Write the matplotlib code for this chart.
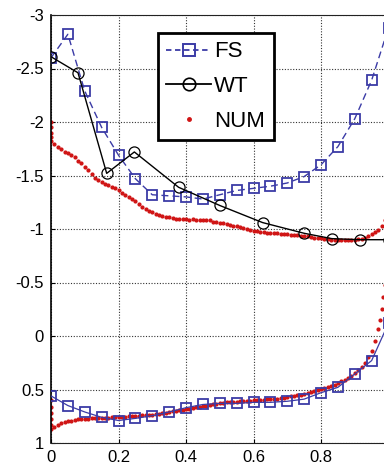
import matplotlib
matplotlib.use("Agg")
import matplotlib.pyplot as plt
from matplotlib.lines import Line2D

plt.rcParams['font.family'] = ['Liberation Sans', 'DejaVu Sans']
plt.rcParams['axes.unicode_minus'] = False

# ---- data ----
fs_x = [0.00, 0.05, 0.10, 0.15, 0.20, 0.25, 0.30, 0.35, 0.40, 0.45, 0.50,
        0.55, 0.60, 0.65, 0.70, 0.75, 0.80, 0.85, 0.90, 0.95, 1.00]
fs_upper = [-2.60, -2.82, -2.29, -1.95, -1.69, -1.47, -1.32, -1.31, -1.30, -1.28, -1.32,
            -1.36, -1.38, -1.40, -1.43, -1.49, -1.60, -1.77, -2.03, -2.39, -2.88]
fs_lower = [0.56, 0.65, 0.71, 0.76, 0.79, 0.77, 0.745, 0.71, 0.67, 0.64, 0.63,
            0.63, 0.62, 0.62, 0.61, 0.59, 0.53, 0.48, 0.355, 0.23, -0.12]

wt_x = [0.0, 0.08, 0.165, 0.247, 0.378, 0.50, 0.627, 0.75, 0.832, 0.916, 1.0]
wt_y = [-2.61, -2.46, -1.52, -1.72, -1.39, -1.22, -1.06, -0.96, -0.91, -0.90, -0.90]

num_upper_x = [0.0, 0.0, 0.0, 0.0,
               0.00, 0.01, 0.02, 0.03, 0.04, 0.05, 0.06, 0.07, 0.08, 0.09,
               0.10, 0.11, 0.12, 0.13, 0.14, 0.15, 0.16, 0.17, 0.18, 0.19,
               0.20, 0.21, 0.22, 0.23, 0.24, 0.25, 0.26, 0.27, 0.28, 0.29,
               0.30, 0.31, 0.32, 0.33, 0.34, 0.35, 0.36, 0.37, 0.38, 0.39,
               0.40, 0.41, 0.42, 0.43, 0.44, 0.45, 0.46, 0.47, 0.48, 0.49,
               0.50, 0.51, 0.52, 0.53, 0.54, 0.55, 0.56, 0.57, 0.58, 0.59,
               0.60, 0.61, 0.62, 0.63, 0.64, 0.65, 0.66, 0.67, 0.68, 0.69,
               0.70, 0.71, 0.72, 0.73, 0.74, 0.75, 0.76, 0.77, 0.78, 0.79,
               0.80, 0.81, 0.82, 0.83, 0.84, 0.85, 0.86, 0.87, 0.88, 0.89,
               0.90, 0.91, 0.92, 0.93, 0.94, 0.95, 0.96, 0.97, 0.98, 0.99]
num_upper_y = [-2.00, -1.95, -1.90, -1.86,
               -1.82, -1.79, -1.77, -1.75, -1.72, -1.71, -1.69, -1.67, -1.64, -1.62,
               -1.58, -1.55, -1.51, -1.48, -1.46, -1.44, -1.42, -1.41, -1.39, -1.38,
               -1.36, -1.34, -1.32, -1.30, -1.28, -1.26, -1.23, -1.21, -1.19, -1.17,
               -1.16, -1.14, -1.13, -1.12, -1.115, -1.11, -1.10, -1.095, -1.09, -1.09,
               -1.09, -1.085, -1.09, -1.085, -1.08, -1.085, -1.08, -1.08, -1.07, -1.07,
               -1.06, -1.055, -1.05, -1.04, -1.03, -1.025, -1.02, -1.01, -1.00, -0.995,
               -0.985, -0.98, -0.975, -0.97, -0.965, -0.965, -0.96, -0.96, -0.955, -0.95,
               -0.95, -0.945, -0.945, -0.94, -0.935, -0.93, -0.93, -0.925, -0.92, -0.92,
               -0.915, -0.91, -0.905, -0.90, -0.90, -0.895, -0.895, -0.895, -0.895, -0.90,
               -0.90, -0.905, -0.91, -0.92, -0.935, -0.95, -0.97, -0.99, -1.03, -1.08]

num_lower_x = [0.0, 0.0, 0.0, 0.0, 0.0,
               0.00, 0.01, 0.02, 0.03, 0.04, 0.05, 0.06, 0.07, 0.08, 0.09,
               0.10, 0.11, 0.12, 0.13, 0.14, 0.15, 0.16, 0.17, 0.18, 0.19,
               0.20, 0.21, 0.22, 0.23, 0.24, 0.25, 0.26, 0.27, 0.28, 0.29,
               0.30, 0.31, 0.32, 0.33, 0.34, 0.35, 0.36, 0.37, 0.38, 0.39,
               0.40, 0.41, 0.42, 0.43, 0.44, 0.45, 0.46, 0.47, 0.48, 0.49,
               0.50, 0.51, 0.52, 0.53, 0.54, 0.55, 0.56, 0.57, 0.58, 0.59,
               0.60, 0.61, 0.62, 0.63, 0.64, 0.65, 0.66, 0.67, 0.68, 0.69,
               0.70, 0.71, 0.72, 0.73, 0.74, 0.75, 0.76, 0.77, 0.78, 0.79,
               0.80, 0.81, 0.82, 0.83, 0.84, 0.85, 0.86, 0.87, 0.88, 0.89,
               0.90, 0.91, 0.92, 0.93, 0.94, 0.95, 0.96, 0.97, 0.975, 0.98, 0.985, 0.99]
num_lower_y = [0.60, 0.66, 0.72, 0.78, 0.83,
               0.87, 0.85, 0.83, 0.815, 0.80, 0.795, 0.79, 0.785, 0.78, 0.78,
               0.775, 0.775, 0.77, 0.77, 0.77, 0.765, 0.765, 0.765, 0.76, 0.76,
               0.76, 0.755, 0.755, 0.75, 0.75, 0.745, 0.745, 0.74, 0.74, 0.735,
               0.735, 0.73, 0.725, 0.72, 0.715, 0.71, 0.705, 0.70, 0.695, 0.69,
               0.685, 0.68, 0.67, 0.665, 0.66, 0.655, 0.65, 0.645, 0.64, 0.635,
               0.63, 0.625, 0.62, 0.62, 0.615, 0.615, 0.61, 0.61, 0.605, 0.605,
               0.60, 0.60, 0.595, 0.595, 0.59, 0.59, 0.585, 0.585, 0.58, 0.575,
               0.57, 0.565, 0.56, 0.555, 0.55, 0.545, 0.535, 0.525, 0.515, 0.505,
               0.495, 0.49, 0.48, 0.47, 0.455, 0.44, 0.425, 0.41, 0.395, 0.375,
               0.345, 0.32, 0.29, 0.25, 0.20, 0.14, 0.05, -0.07, -0.15, -0.25, -0.36, -0.48]

x_ticks = [0, 0.2, 0.4, 0.6, 0.8]
x_labels = ["0", "0.2", "0.4", "0.6", "0.8"]
y_ticks = [-3, -2.5, -2, -1.5, -1, -0.5, 0, 0.5, 1]
y_labels = ["-3", "-2.5", "-2", "-1.5", "-1", "-0.5", "0", "0.5", "1"]

BLUE = '#3b3ba6'
RED = '#d01414'

fig = plt.figure(figsize=(3.84, 4.68), dpi=100)
W, H = 384, 468
ax = fig.add_axes([51 / W, (H - 443) / H, 337.5 / W, 428 / H])

ax.plot(num_upper_x, num_upper_y, linestyle='none', marker='o', ms=2.0,
        mfc=RED, mec=RED, zorder=2)
ax.plot(num_lower_x, num_lower_y, linestyle='none', marker='o', ms=2.0,
        mfc=RED, mec=RED, zorder=2)

ax.plot(fs_x, fs_upper, color=BLUE, linestyle=(0, (5, 3)), lw=1.0, marker='s',
        ms=7, mfc='none', mec=BLUE, mew=1.3, zorder=3)
ax.plot(fs_x, fs_lower, color=BLUE, linestyle='-', lw=0.9, marker='s',
        ms=7, mfc='none', mec=BLUE, mew=1.3, zorder=3)

ax.plot(wt_x, wt_y, color='black', linestyle='-', lw=1.0, marker='o',
        ms=8, mfc='none', mec='black', mew=0.9, zorder=4)

ax.set_xlim(0, 1)
ax.set_ylim(1, -3)
ax.set_xticks(x_ticks)
ax.set_xticklabels(x_labels)
ax.set_yticks(y_ticks)
ax.set_yticklabels(y_labels)
ax.tick_params(direction='in', length=3, labelsize=12, pad=5, width=0.8)
ax.grid(True, color='#333333', linestyle=(0, (1, 1.5)), lw=0.8)
ax.set_axisbelow(True)
for s in ['top', 'bottom']:
    ax.spines[s].set_linestyle((0, (1, 1)))
    ax.spines[s].set_color('#222222')
ax.spines['left'].set_linewidth(1.2)

handles = [
    Line2D([], [], color=BLUE, linestyle=(0, (3, 2)), lw=1.3, marker='s', ms=9,
           mfc='none', mec=BLUE, mew=1.4),
    Line2D([], [], color='black', linestyle='-', lw=1.3, marker='o', ms=9,
           mfc='none', mec='black', mew=1.2),
    Line2D([], [], color=RED, linestyle='none', marker='o', ms=2.5,
           mfc=RED, mec=RED),
]
leg = fig.legend(handles, ['FS', 'WT', 'NUM'], loc='upper left',
                 bbox_to_anchor=(158 / W, 1 - 33 / H), borderaxespad=0,
                 fontsize=16, frameon=True, fancybox=False, framealpha=1,
                 edgecolor='black', handlelength=2.0, handletextpad=0.15,
                 labelspacing=0.62, borderpad=0.38)
leg.get_frame().set_linewidth(2.0)

fig.savefig('out.png', dpi=100)
